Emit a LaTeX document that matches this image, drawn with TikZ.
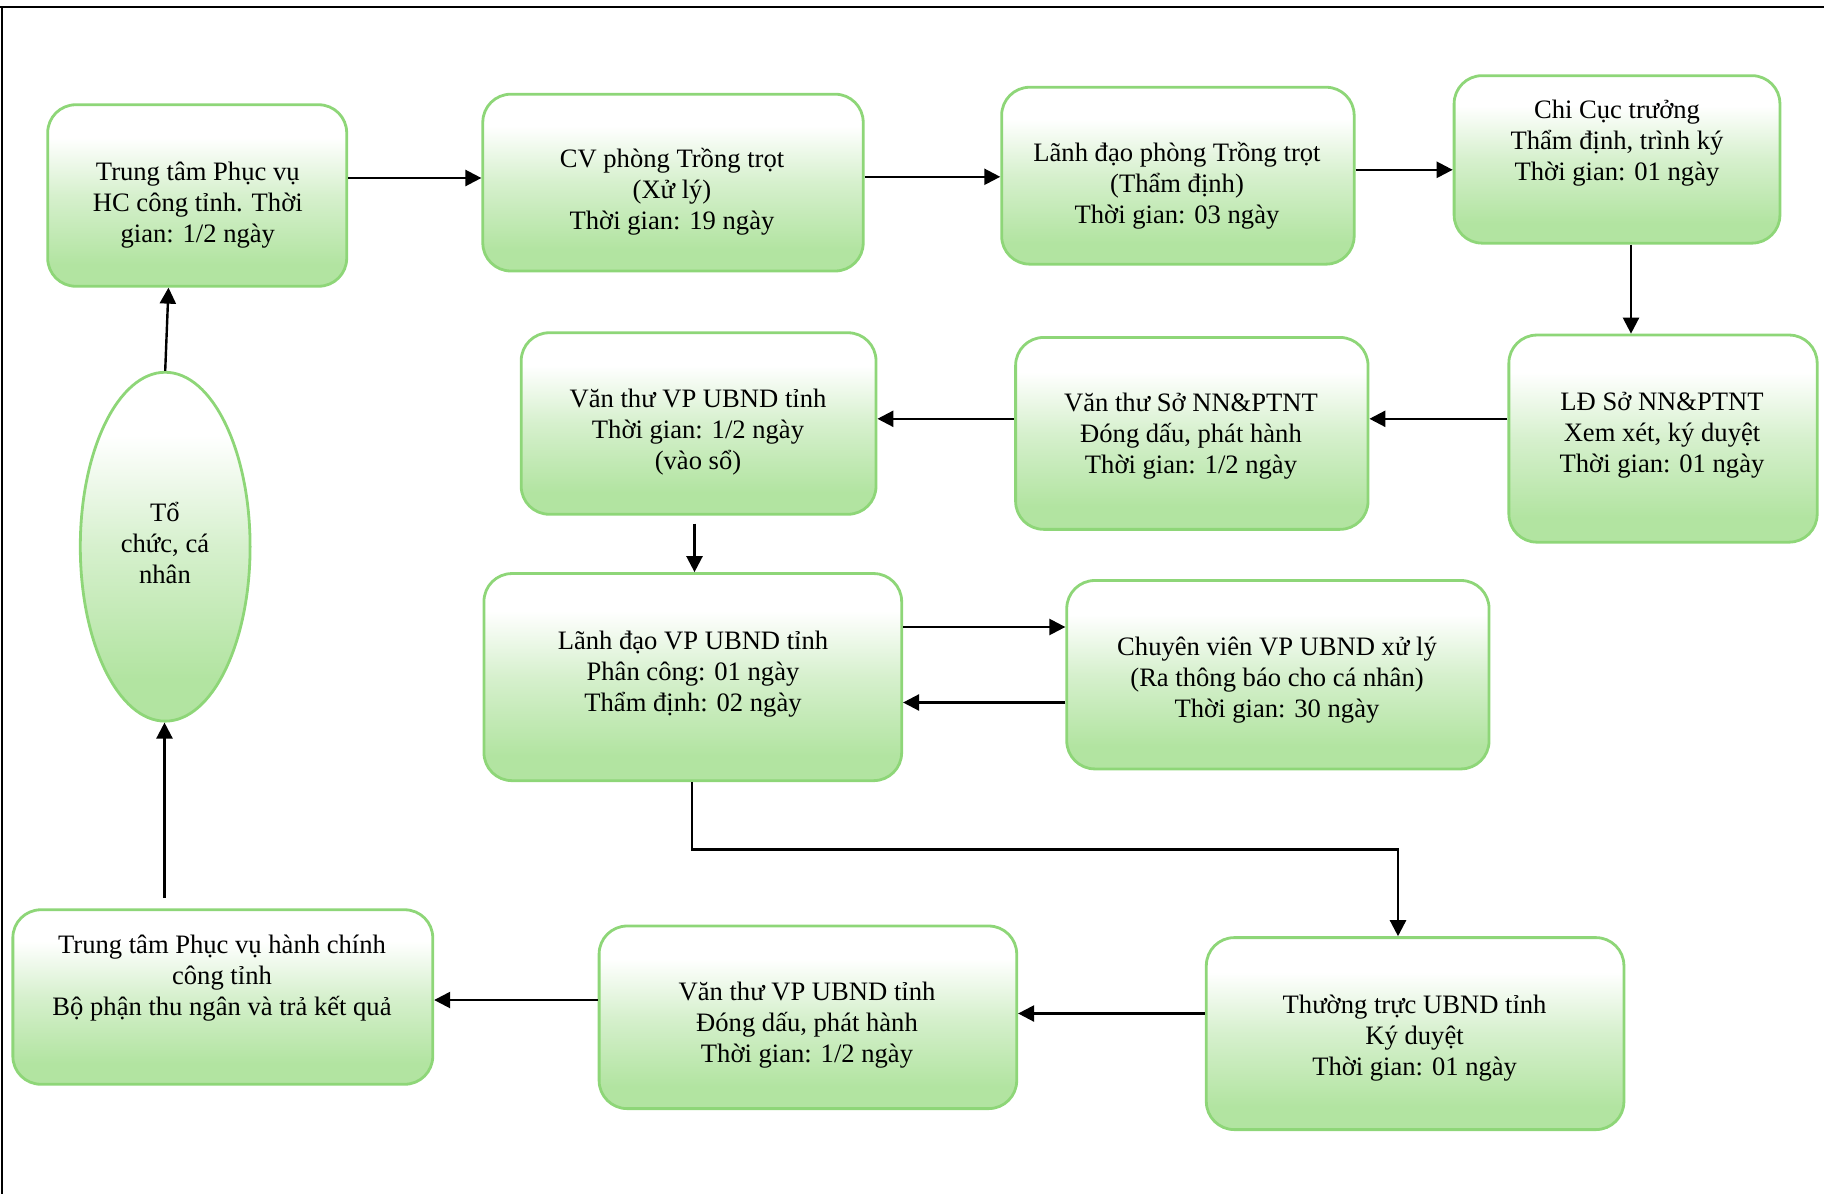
\documentclass[tikz,border=0pt]{standalone}
\usepackage{fontspec}
\setmainfont{Liberation Serif}
\usetikzlibrary{arrows.meta,shapes.geometric}
\definecolor{gline}{RGB}{142,214,120}
\definecolor{gbot}{RGB}{178,228,161}
\definecolor{gmid}{RGB}{214,240,205}
\pgfdeclareverticalshading{greenfade}{100bp}{color(0bp)=(gbot); color(31bp)=(gbot); color(50bp)=(gmid); color(66bp)=(white); color(100bp)=(white)}

\begin{document}
\begin{tikzpicture}[x=0.5pt,y=-0.5pt,
  stepbox/.style={draw=gline, line width=1.4pt, rounded corners=14pt,
    shade, shading=greenfade, inner sep=0pt},
  txt/.style={align=center, font=\fontsize{13.3}{15.5}\selectfont, inner sep=0pt, yshift=-1.8pt},
  arr/.style={line width=1.2pt, -{Triangle[length=8pt,width=8pt]}}]
\useasboundingbox (0,0) rectangle (1824,1194);

% page frame
\draw[line width=1.2pt] (0,7) -- (1824,7);
\draw[line width=1.2pt] (2,7) -- (2,1194);

% process boxes
\node[stepbox, minimum width=149.5pt,  minimum height=90.75pt]  (b1)  at (197.2,195.5) {};
\node[stepbox, minimum width=190.2pt,  minimum height=88.4pt]   (b2)  at (673.0,182.6) {};
\node[stepbox, minimum width=176.25pt, minimum height=88.45pt]  (b3)  at (1177.9,175.7) {};
\node[stepbox, minimum width=162.9pt,  minimum height=83.75pt]  (b4)  at (1617.0,159.4) {};
\node[stepbox, minimum width=154.15pt, minimum height=103.55pt] (b5)  at (1663.0,438.6) {};
\node[stepbox, minimum width=176.2pt,  minimum height=95.95pt]  (b6)  at (1191.8,433.4) {};
\node[stepbox, minimum width=177.4pt,  minimum height=90.75pt]  (b7)  at (698.6,423.5) {};
\node[stepbox, minimum width=208.85pt, minimum height=103.55pt] (b8)  at (692.8,677.1) {};
\node[stepbox, minimum width=211.15pt, minimum height=94.2pt]   (b9)  at (1277.9,674.7) {};
\node[stepbox, minimum width=208.8pt,  minimum height=96pt]     (b10) at (1415.1,1033.6) {};
\node[stepbox, minimum width=208.8pt,  minimum height=91.3pt]   (b11) at (807.9,1017.3) {};
\node[stepbox, minimum width=209.95pt, minimum height=87.25pt]  (b12) at (222.8,997.0) {};
\node[ellipse, draw=gline, line width=1.4pt, shade, shading=greenfade, inner sep=0pt,
      minimum width=84.9pt, minimum height=174.45pt] (e) at (165.2,546.7) {};

% box texts
\node[txt] (t1)  at (197.8,201.3)  {Trung tâm Phục vụ\\HC công tỉnh. Thời\\gian: 1/2 ngày};
\node[txt] (t2)  at (672,188.5)    {CV phòng Trồng trọt\\(Xử lý)\\Thời gian: 19 ngày};
\node[txt] (t3)  at (1177,182.6)   {Lãnh đạo phòng Trồng trọt\\(Thẩm định)\\Thời gian: 03 ngày};
\node[txt] (t4)  at (1617,139.6)   {Chi Cục trưởng\\Thẩm định, trình ký\\Thời gian: 01 ngày};
\node[txt] (t5)  at (1662,431.6)   {LĐ Sở NN\&PTNT\\Xem xét, ký duyệt\\Thời gian: 01 ngày};
\node[txt] (t6)  at (1191,433)     {Văn thư Sở NN\&PTNT\\Đóng dấu, phát hành\\Thời gian: 1/2 ngày};
\node[txt] (t7)  at (698,428.1)    {Văn thư VP UBND tỉnh\\Thời gian: 1/2 ngày\\(vào sổ)};
\node[txt] (t8)  at (693,670.1)    {Lãnh đạo VP UBND tỉnh\\Phân công: 01 ngày\\Thẩm định: 02 ngày};
\node[txt] (t9)  at (1277,677.0)   {Chuyên viên VP UBND xử lý\\(Ra thông báo cho cá nhân)\\Thời gian: 30 ngày};
\node[txt] (t10) at (1414.6,1034.2){Thường trực UBND tỉnh\\Ký duyệt\\Thời gian: 01 ngày};
\node[txt] (t11) at (807,1021.4)   {Văn thư VP UBND tỉnh\\Đóng dấu, phát hành\\Thời gian: 1/2 ngày};
\node[txt] (t12) at (222,974.8)    {Trung tâm Phục vụ hành chính\\công tỉnh\\Bộ phận thu ngân và trả kết quả};
\node[txt] (te)  at (165,539.8)    {Tổ\\chức, cá\\nhân};

% connectors
\draw[arr] (b1.east |- 0,178) -- (b2.west |- 0,178);
\draw[arr] (b2.east |- 0,176.8) -- (b3.west |- 0,176.8);
\draw[arr] (b3.east |- 0,169.8) -- (b4.west |- 0,169.8);
\draw[arr] (b4.south -| 1631,0) -- (b5.north -| 1631,0);
\draw[arr] (b5.west |- 0,418.8) -- (b6.east |- 0,418.8);
\draw[arr] (b6.west |- 0,418.8) -- (b7.east |- 0,418.8);
\coordinate (c7) at (694.5,523.5);
\draw[arr] (c7) -- (b8.north -| c7);
\draw[arr] (b8.east |- 0,627) -- (b9.west |- 0,627);
\draw[arr] (b9.west |- 0,702.5) -- (b8.east |- 0,702.5);
\draw[arr] (b8.south -| 692,0) -- (692,849.5) -- (1398,849.5) -- (b10.north -| 1398,0);
\draw[arr] (b10.west |- 0,1013.5) -- (b11.east |- 0,1013.5);
\draw[arr] (b11.west |- 0,1000) -- (b12.east |- 0,1000);
\coordinate (c13) at (164.5,898);
\draw[arr] (c13) -- (e.south -| c13);
\draw[arr] (e.north) -- (b1.south -| 168.5,0);
\end{tikzpicture}
\end{document}
